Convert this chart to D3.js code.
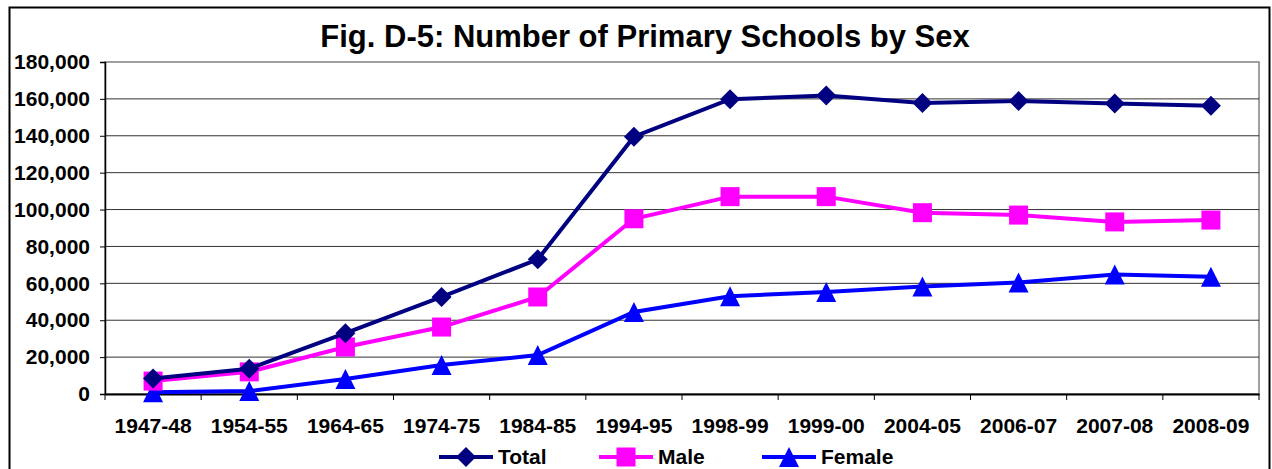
<!DOCTYPE html>
<html>
<head>
<meta charset="utf-8">
<script src="https://cdn.jsdelivr.net/npm/d3@7"></script>
<style>
  body { margin: 0; background: #fff; }
  text { font-family: "Liberation Sans", Arial, sans-serif; font-weight: bold; }
</style>
</head>
<body>
<script>
// data
const years = ["1947-48", "1954-55", "1964-65", "1974-75", "1984-85", "1994-95",
               "1998-99", "1999-00", "2004-05", "2006-07", "2007-08", "2008-09"];
const total  = [8400, 13700, 33000, 52600, 73000, 139500, 159800, 161800, 157800, 158800, 157500, 156300];
const male   = [7000, 12000, 25500, 36300, 52600, 95000, 107000, 107000, 98300, 97000, 93300, 94300];
const female = [1000, 1600, 8100, 15700, 21100, 44500, 53000, 55300, 58300, 60500, 64800, 63600];
const yTicks = [0, 20000, 40000, 60000, 80000, 100000, 120000, 140000, 160000, 180000];

// marker shapes, centred on their bounding box like the spreadsheet markers
const shapes = {
  diamond: r => `M0,${-r}L${r},0L0,${r}L${-r},0Z`,
  square: r => `M${-r * 0.95},${-r * 0.95}h${r * 1.9}v${r * 1.9}h${-r * 1.9}Z`,
  triangle: r => `M0,${-r}L${r},${r}L${-r},${r}Z`
};

const series = [
  { name: "Total", values: total, color: "#000080", shape: "diamond" },
  { name: "Male", values: male, color: "#ff00ff", shape: "square" },
  { name: "Female", values: female, color: "#0000ff", shape: "triangle" }
];

const w = 1272, h = 469;
const margin = { left: 105, right: 13, top: 62, bottom: 75 };
const markR = 10;

const svg = d3.select("body").append("svg")
  .attr("width", w)
  .attr("height", h);

// outer frame
svg.append("rect")
  .attr("x", 9.5).attr("y", 7.5)
  .attr("width", 1260).attr("height", 480)
  .attr("fill", "#fff")
  .attr("stroke", "#000")
  .attr("stroke-width", 2);

svg.append("text")
  .attr("x", 645).attr("y", 47)
  .attr("text-anchor", "middle")
  .attr("font-size", 31)
  .text("Fig. D-5: Number of Primary Schools by Sex");

const xScale = d3.scaleBand()
  .domain(years)
  .range([margin.left, w - margin.right]);

const yScale = d3.scaleLinear()
  .domain([0, 180000])
  .range([h - margin.bottom, margin.top]);

// plot area border
svg.append("rect")
  .attr("x", margin.left).attr("y", margin.top)
  .attr("width", w - margin.right - margin.left)
  .attr("height", h - margin.bottom - margin.top)
  .attr("fill", "none")
  .attr("stroke", "#808080")
  .attr("stroke-width", 1.5);

// gridlines
svg.append("g")
  .selectAll("line")
  .data(yTicks.filter(d => d > 0 && d < 180000))
  .enter()
  .append("line")
  .attr("x1", margin.left)
  .attr("x2", w - margin.right)
  .attr("y1", d => yScale(d))
  .attr("y2", d => yScale(d))
  .attr("stroke", "#333")
  .attr("stroke-width", 1);

const yAxis = d3.axisLeft(yScale)
  .tickValues(yTicks)
  .tickFormat(d3.format(","))
  .tickSize(5)
  .tickPadding(10);

const gy = svg.append("g")
  .attr("transform", "translate(" + margin.left + ",0)")
  .call(yAxis);
gy.selectAll("text").attr("font-size", 21).attr("fill", "#000");
gy.selectAll("line").attr("stroke", "#000");
gy.select(".domain").attr("stroke", "#000").attr("stroke-width", 1.5);

// x axis with ticks at category boundaries
const xAxis = d3.axisBottom(xScale).tickSize(0);
const gx = svg.append("g")
  .attr("transform", "translate(0," + (h - margin.bottom) + ")")
  .call(xAxis);
gx.selectAll("text")
  .attr("font-size", 21)
  .attr("fill", "#000")
  .attr("y", 39)
  .attr("dy", 0);
gx.select(".domain").attr("stroke", "#000").attr("stroke-width", 2);

gx.selectAll(".bound")
  .data(years.concat(["end"]))
  .enter()
  .append("line")
  .attr("x1", (d, i) => margin.left + i * xScale.step())
  .attr("x2", (d, i) => margin.left + i * xScale.step())
  .attr("y1", 0)
  .attr("y2", 6)
  .attr("stroke", "#000");

const cx = i => xScale(years[i]) + xScale.bandwidth() / 2;

const line = d3.line()
  .x((d, i) => cx(i))
  .y(d => yScale(d));

// draw Female first so Total ends on top
series.slice().reverse().forEach(s => {
  svg.append("path")
    .datum(s.values)
    .attr("d", line)
    .attr("fill", "none")
    .attr("stroke", s.color)
    .attr("stroke-width", 4);

  svg.selectAll(".m-" + s.name)
    .data(s.values)
    .enter()
    .append("path")
    .attr("transform", (d, i) => "translate(" + cx(i) + "," + yScale(d) + ")")
    .attr("d", shapes[s.shape](markR))
    .attr("fill", s.color);
});

// legend
const legendX = [439, 599, 762];
const legendY = 457;
series.forEach((s, i) => {
  const g = svg.append("g").attr("transform", "translate(" + legendX[i] + "," + legendY + ")");
  g.append("line")
    .attr("x1", 0).attr("x2", 54)
    .attr("stroke", s.color)
    .attr("stroke-width", 4);
  g.append("path")
    .attr("transform", "translate(27,0)")
    .attr("d", shapes[s.shape](markR))
    .attr("fill", s.color);
  g.append("text")
    .attr("x", 59).attr("y", 7)
    .attr("font-size", 21)
    .text(s.name);
});
</script>
</body>
</html>
